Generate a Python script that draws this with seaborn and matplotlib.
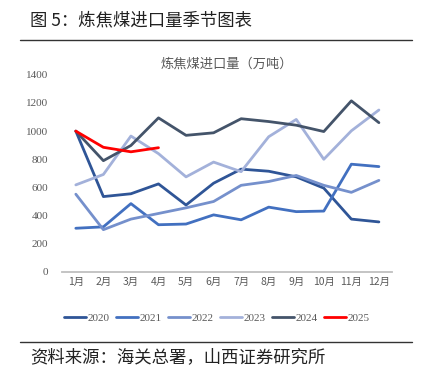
import pandas as pd
import seaborn as sns
import matplotlib.pyplot as plt
from matplotlib.lines import Line2D

months = ["1月", "2月", "3月", "4月", "5月", "6月", "7月", "8月", "9月", "10月", "11月", "12月"]

v2020 = [1000, 535, 555, 625, 475, 630, 730, 715, 675, 595, 375, 355]
v2021 = [310, 320, 485, 335, 340, 405, 370, 460, 428, 432, 765, 748]
v2022 = [552, 300, 375, 415, 455, 500, 615, 642, 685, 615, 565, 650]
v2023 = [618, 692, 965, 840, 675, 780, 712, 960, 1083, 800, 1002, 1150]
v2024 = [1000, 790, 898, 1094, 970, 988, 1088, 1068, 1042, 997, 1215, 1060]
v2025 = [1000, 885, 853, 882]

years = ["2020", "2021", "2022", "2023", "2024", "2025"]
colors = ["#2F5597", "#4270C0", "#7590CC", "#A3B1DA", "#44546A", "#FF0000"]
series = [v2020, v2021, v2022, v2023, v2024, v2025]

rows = []
for yr, vals in zip(years, series):
    for i, v in enumerate(vals):
        rows.append({"year": yr, "m": i, "value": v})
df = pd.DataFrame(rows)

sns.set_style("white")
plt.rcParams['font.family'] = ['Noto Sans CJK SC', 'DejaVu Sans']

fig = plt.figure(figsize=(4.25, 3.74), dpi=100)
ax = fig.add_axes([0.146, 0.273, 0.776, 0.527])

palette = dict(zip(years, colors))
sns.lineplot(data=df, x="m", y="value", hue="year", palette=palette,
             linewidth=2.0, ax=ax, legend=False, sort=False)

ax.set_xlim(-0.5, 11.47)
ax.set_ylim(0, 1400)
ax.set_yticks(range(0, 1401, 200))
ax.set_xticks(range(12))
ax.set_xticklabels(months)
ax.set_xlabel("")
ax.set_ylabel("")
for s in ["top", "right", "left"]:
    ax.spines[s].set_visible(False)
ax.spines["bottom"].set_color("#BFBFBF")
ax.spines["bottom"].set_linewidth(1.3)
ax.tick_params(axis="both", length=0, colors="#595959", labelsize=7.5)
ax.tick_params(axis="y", pad=10, labelsize=8)
for lab in ax.get_yticklabels():
    lab.set_family(["Liberation Serif"])
ax.grid(False)

ax.set_title("炼焦煤进口量（万吨）", fontsize=9.5, color="#595959", pad=5)

handles = [Line2D([0], [0], color=c, lw=2.0) for c in colors]
leg = fig.legend(handles, years, loc="center", bbox_to_anchor=(0.51, 0.149), ncol=6,
                 frameon=False, fontsize=8, handlelength=2.0, handletextpad=0.1,
                 columnspacing=0.6)
for t in leg.get_texts():
    t.set_color("#595959")
    t.set_family(["Liberation Serif"])

fig.text(0.07, 0.945, "图 5：炼焦煤进口量季节图表", fontsize=12.5, va="center", color="#222222")
fig.add_artist(Line2D([0.047, 0.97], [0.893, 0.893], color="#333333", lw=1.0))
fig.add_artist(Line2D([0.047, 0.97], [0.086, 0.086], color="#333333", lw=1.0))
fig.text(0.07, 0.045, "资料来源：海关总署，山西证券研究所", fontsize=12.5, va="center", color="#222222")

fig.savefig("out.png", dpi=100, facecolor="white")
